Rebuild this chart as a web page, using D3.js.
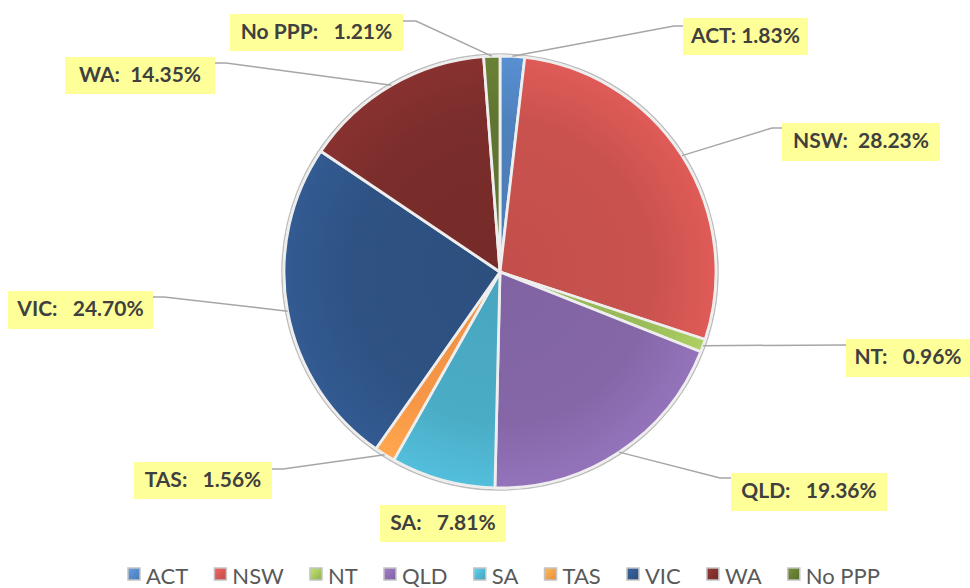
<!DOCTYPE html>
<html><head><meta charset="utf-8">
<script src="https://cdn.jsdelivr.net/npm/d3@7/dist/d3.min.js"></script>
<style>
html,body{margin:0;padding:0;background:#fff;}
svg{display:block;}
</style></head>
<body>
<svg id="chart" width="970" height="588"></svg>
<script>
const categories = ["ACT","NSW","NT","QLD","SA","TAS","VIC","WA","No PPP"];
const values = [1.83, 28.23, 0.96, 19.36, 7.81, 1.56, 24.70, 14.35, 1.21];
const labelTexts = ["ACT: 1.83%","NSW:  28.23%","NT:   0.96%","QLD:   19.36%","SA:   7.81%","TAS:   1.56%","VIC:   24.70%","WA:  14.35%","No PPP:   1.21%"];
const colors = ["#4F81BD","#C9524E","#9BBB59","#8567A8","#4BACC6","#F79646","#2E5283","#7A2D2B","#5F7530"];

// label layout (box x,y,w,h) and leader elbow points
const labelBoxes = [
  [683,18,125,37],[782,123,158,38],[846,339,124,38],[731,473,156,38],
  [380,505,126,37],[134,462,138,37],[8,291,145,38],[65,57,150,37],[230,14,173,37]
];
const leaderEnds = [
  [[674,26],[683,26]],[[772,128],[782,128]],[[846,345],[846,345]],[[720,478],[731,478]],
  null,[[283,469],[272,469]],[[164,297],[153,297]],[[226,63],[215,63]],[[416,21],[403,21]]
];

const svg = d3.select("#chart");
const cx = 500, cy = 272, R = 216;

const defs = svg.append("defs");
colors.forEach((c,i)=>{
  const g = defs.append("radialGradient").attr("id","g"+i)
    .attr("gradientUnits","userSpaceOnUse").attr("cx",0).attr("cy",0).attr("r",R);
  g.append("stop").attr("offset","0%").attr("stop-color",d3.color(c).darker(0.1));
  g.append("stop").attr("offset","70%").attr("stop-color",c);
  g.append("stop").attr("offset","100%").attr("stop-color",d3.color(c).brighter(0.3));
  const lg = defs.append("linearGradient").attr("id","lg"+i)
    .attr("x1","0").attr("y1","0").attr("x2","1").attr("y2","1");
  lg.append("stop").attr("offset","0%").attr("stop-color",d3.color(c).brighter(0.6));
  lg.append("stop").attr("offset","100%").attr("stop-color",d3.color(c).darker(0.2));
});

const data = categories.map((k,i)=>({key:k,value:values[i],i}));
const pie = d3.pie().sort(null).value(d=>d.value);
const arcs = pie(data);
const arc = d3.arc().innerRadius(0).outerRadius(R);

const g = svg.append("g").attr("transform",`translate(${cx},${cy})`);
g.append("circle").attr("r",R+2).attr("fill","none").attr("stroke","#bdbdbd").attr("stroke-width",1.5);
g.selectAll("path.slice").data(arcs).enter().append("path")
  .attr("class","slice")
  .attr("d",arc)
  .attr("fill",d=>`url(#g${d.data.i})`)
  .attr("stroke","#eeeeee").attr("stroke-width",2.8).attr("stroke-linejoin","round");

// leader lines
arcs.forEach((d,i)=>{
  const le = leaderEnds[i];
  if(!le) return;
  const a = (d.startAngle+d.endAngle)/2;
  const p0 = [cx+R*Math.sin(a), cy-R*Math.cos(a)];
  svg.append("path")
    .attr("d", d3.line()([p0, le[0], le[1]]))
    .attr("fill","none").attr("stroke","#a6a6a6").attr("stroke-width",1.5);
});

// label boxes
arcs.forEach((d,i)=>{
  const b = labelBoxes[i];
  svg.append("rect").attr("x",b[0]).attr("y",b[1]).attr("width",b[2]).attr("height",b[3]).attr("fill","#FFFF99");
  svg.append("text").attr("x",b[0]+b[2]/2).attr("y",b[1]+b[3]/2+1)
    .attr("text-anchor","middle").attr("dominant-baseline","middle")
    .attr("xml:space","preserve").style("white-space","pre")
    .attr("font-family","Lato, 'Open Sans', sans-serif").attr("font-weight","bold")
    .attr("font-size",21).attr("fill","#404040")
    .text(labelTexts[i]);
});

// legend
const lg = svg.append("g");
const items = lg.selectAll("g.item").data(categories).enter().append("g").attr("class","item");
items.append("rect").attr("x",0).attr("y",-6).attr("width",12).attr("height",12)
  .attr("fill",(d,i)=>`url(#lg${i})`).attr("stroke","#c4c4c4").attr("stroke-width",1.5);
items.append("text").attr("x",18).attr("y",1).attr("dominant-baseline","central")
  .attr("font-family","Lato, 'Open Sans', sans-serif").attr("font-size",22).attr("fill","#595959")
  .text(d=>d);
const widths = [];
items.each(function(){ widths.push(18 + d3.select(this).select("text").node().getComputedTextLength()); });
const span = 752;
const gap = (span - d3.sum(widths)) / (widths.length - 1);
let xpos = 0;
items.each(function(d,i){
  d3.select(this).attr("transform",`translate(${xpos},0)`);
  xpos += widths[i] + gap;
});
lg.attr("transform",`translate(128,574)`);
</script>
</body></html>
